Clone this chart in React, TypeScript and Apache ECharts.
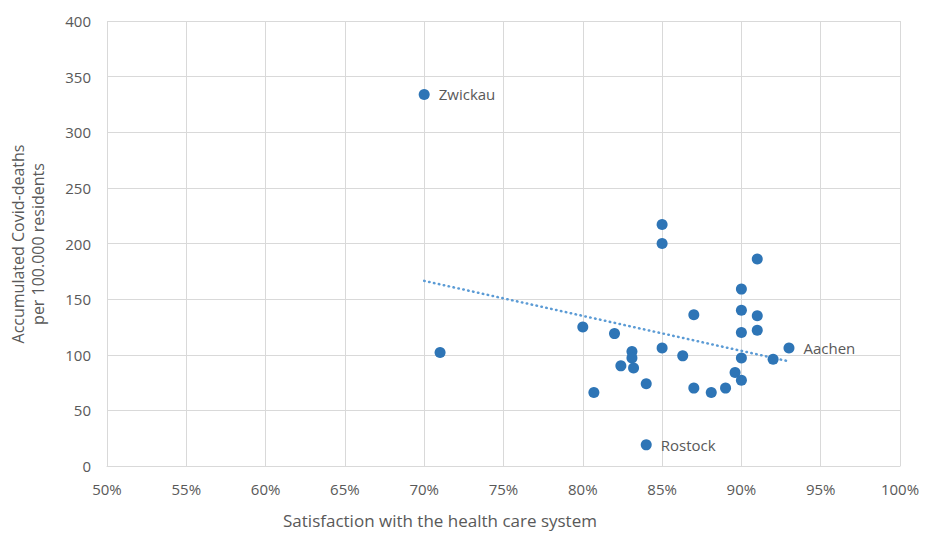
import React, { useEffect, useRef } from "react";
import * as echarts from "echarts";

const satisfaction: number[] = [70, 71, 80, 80.7, 82, 82.4, 83.1, 83.1, 83.2, 84, 84, 85, 85, 85, 86.3, 87, 87, 88.1, 89, 89.6, 90, 90, 90, 90, 90, 91, 91, 91, 92, 93];
const deaths: number[] = [334, 102, 125, 66, 119, 90, 103, 97, 88, 74, 19, 217, 200, 106, 99, 136, 70, 66, 70, 84, 159, 140, 120, 97, 77, 186, 135, 122, 96, 106];
const cityNames: string[] = ["Zwickau", "", "", "", "", "", "", "", "", "", "Rostock", "", "", "", "", "", "", "", "", "", "", "", "", "", "", "", "", "", "", "Aachen"];

const xTitle = "Satisfaction with the health care system";
const yTitle = "Accumulated Covid-deaths\nper 100.000 residents";

export default function App() {
  const ref = useRef<HTMLDivElement>(null);
  useEffect(() => {
    if (!ref.current) return;
    const chart = echarts.init(ref.current, undefined, { renderer: "svg" });
    const n = satisfaction.length;
    const mx = satisfaction.reduce((a, b) => a + b, 0) / n;
    const my = deaths.reduce((a, b) => a + b, 0) / n;
    let sxy = 0, sxx = 0;
    for (let i = 0; i < n; i++) {
      sxy += (satisfaction[i] - mx) * (deaths[i] - my);
      sxx += (satisfaction[i] - mx) ** 2;
    }
    const slope = sxy / sxx;
    const icpt = my - slope * mx;
    const xmin = Math.min(...satisfaction);
    const xmax = Math.max(...satisfaction);
    const trend = [[xmin, icpt + slope * xmin], [xmax, icpt + slope * xmax]];
    const font = "'Open Sans', 'Noto Sans', sans-serif";
    const pts = satisfaction.map((x, i) => ({
      value: [x, deaths[i]],
      label: cityNames[i]
        ? { show: true, formatter: cityNames[i], position: "right", distance: 9, color: "#595959", fontSize: 15, fontFamily: font }
        : { show: false },
    }));
    chart.setOption({
      animation: false,
      grid: { left: 107, right: 25, top: 21, bottom: 67, containLabel: false },
      xAxis: {
        type: "value",
        min: 50,
        max: 100,
        interval: 5,
        axisLine: { show: true, lineStyle: { color: "#d9d9d9" } },
        axisTick: { show: false },
        splitLine: { show: true, lineStyle: { color: "#d9d9d9", width: 1 } },
        axisLabel: { formatter: "{value}%", color: "#595959", fontSize: 15, fontFamily: font, margin: 15 },
      },
      yAxis: {
        type: "value",
        min: 0,
        max: 400,
        interval: 50,
        axisLine: { show: false },
        axisTick: { show: false },
        splitLine: { show: true, lineStyle: { color: "#d9d9d9", width: 1 } },
        axisLabel: { color: "#595959", fontSize: 15, fontFamily: font, margin: 16 },
      },
      graphic: [
        {
          type: "text",
          x: 440,
          y: 520,
          style: { text: xTitle, fill: "#595959", fontSize: 17, fontFamily: font, align: "center", verticalAlign: "middle" },
        },
        {
          type: "text",
          x: 28,
          y: 244,
          rotation: Math.PI / 2,
          style: { text: yTitle, fill: "#595959", fontSize: 16, fontFamily: font, align: "center", verticalAlign: "middle", lineHeight: 20 },
        },
      ],
      series: [
        {
          type: "line",
          data: trend,
          symbol: "none",
          silent: true,
          lineStyle: { color: "#5b9bd5", width: 2.5, type: [0.5, 4.5], cap: "round" },
          z: 1,
        },
        {
          type: "scatter",
          data: pts,
          symbolSize: 11,
          itemStyle: { color: "#2e75b6", opacity: 1 },
          z: 2,
        },
      ],
    });
    return () => chart.dispose();
  }, []);
  return <div ref={ref} style={{ width: 925, height: 533, position: "absolute", left: 0, top: 0, background: "#fff" }} />;
}
